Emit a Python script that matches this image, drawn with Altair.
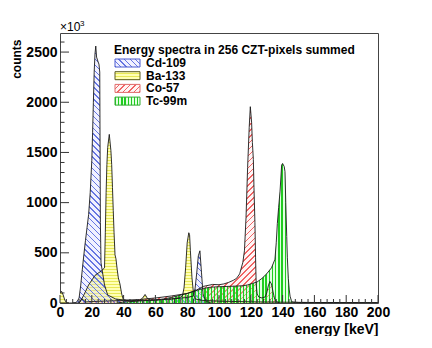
import math
import altair as alt
import pandas as pd

# ---------------- data (counts, axis unit = 10^3) ----------------
cd_e = [8, 10, 11, 12, 13, 14, 15, 16, 17, 18, 19, 20, 20.5, 21, 21.5, 22, 22.5, 23, 24, 24.5,
        25, 25.4, 25.8, 27, 28, 30, 35, 40, 50, 60, 70, 80, 84, 85, 86, 87, 88, 89, 90, 92, 95]
cd_c = [0, 5, 20, 50, 170, 330, 480, 620, 750, 880, 1100, 1420, 1700, 2000, 2300, 2480, 2560, 2450, 2400, 2380,
        2300, 800, 400, 280, 180, 80, 40, 30, 25, 30, 40, 55, 70, 150, 300, 470, 520, 300, 80, 15, 0]

ba_e = [0, 1, 2, 3, 4, 6, 12, 13, 15, 18, 22, 26, 28, 28.5, 29, 29.5, 30, 31, 32, 32.5, 33, 33.5, 34,
        34.6, 35.2, 36, 36.7, 37.7, 38.8, 39.8, 42, 45, 50, 52, 53.5, 55, 57, 60, 65, 70, 75, 77, 78, 79,
        80, 81, 81.5, 82, 83, 84, 85, 90, 100, 120, 140, 160, 200]
ba_c = [100, 116, 80, 30, 5, 0, 0, 20, 80, 180, 275, 320, 350, 700, 1100, 1380, 1550, 1680, 1520, 1380, 1150, 920, 700,
        480, 440, 330, 250, 190, 90, 35, 25, 20, 25, 50, 85, 45, 30, 30, 35, 40, 50, 70, 150, 350,
        600, 700, 680, 520, 250, 90, 40, 25, 18, 12, 8, 5, 3]

co_e = [12, 13.5, 14.5, 16, 20, 30, 40, 50, 60, 70, 80, 86, 90, 96, 100, 103, 106, 109, 111, 113, 115, 116,
        117, 118, 119, 119.7, 120.5, 121, 121.6, 122, 122.6, 123, 123.4, 124, 125, 127, 129, 130, 131, 132,
        133, 134, 135, 136, 138]
co_c = [0, 40, 35, 10, 15, 20, 25, 35, 50, 70, 95, 130, 165, 185, 182, 190, 205, 226, 245, 290, 405, 520,
        850, 1350, 1750, 1956, 1800, 1600, 1430, 1150, 800, 450, 180, 90, 60, 50, 60, 100, 170, 215,
        190, 110, 40, 15, 0]

tc_e = [36, 40, 50, 60, 65, 70, 75, 80, 85, 90, 95, 100, 105, 110, 115, 118, 121, 124, 127, 130, 133, 135.2,
        136, 136.7, 137.5, 138.4, 139.4, 140, 141, 141.5, 142, 142.6, 143, 143.6, 144.2, 144.7, 145.5, 146,
        150, 160, 180, 200]
tc_c = [0, 10, 20, 30, 40, 55, 75, 95, 120, 145, 158, 162, 165, 168, 172, 180, 195, 210, 245, 291, 350, 436,
        600, 793, 950, 1115, 1374, 1390, 1360, 1309, 1000, 662, 450, 242, 130, 68, 25, 10,
        5, 4, 4, 3]

series_names = ["Cd-109", "Ba-133", "Co-57", "Tc-99m"]
legend_title = "Energy spectra in 256 CZT-pixels summed"

x_major = [0, 20, 40, 60, 80, 100, 120, 140, 160, 180, 200]
x_minor = [v for v in range(0, 201, 4) if v % 20 != 0]
y_major = [0, 500, 1000, 1500, 2000, 2500]
y_minor = [v for v in range(100, 2690, 100) if v % 500 != 0]

# ---------------- layout ----------------
W, H = 318, 270
XMAX, YMAX = 200, 2690
FONT = "Liberation Sans"

xs = alt.Scale(domain=[0, XMAX], nice=False, zero=False)
ys = alt.Scale(domain=[0, YMAX], nice=False, zero=False)


def hatch(w, h, d, period, lw, line_col, gap_col):
    dx, dy = d
    dn = math.hypot(dx, dy)
    gx, gy = dy / h, -dx / w
    corners = [(0, 0), (1, 0), (0, 1), (1, 1)]
    s = [cx * gx + cy * gy for cx, cy in corners]
    smin, smax = min(s), max(s)
    p1 = corners[s.index(smin)]
    k = (smax - smin) / (gx * gx + gy * gy)
    p2 = (p1[0] + k * gx, p1[1] + k * gy)
    L = (w * abs(dy) + h * abs(dx)) / dn
    n = max(1, int(round(L / period)))
    f = lw / period
    stops = []
    for i in range(n):
        a, b, c = i / n, (i + f) / n, (i + 1) / n
        stops += [{"offset": round(a, 5), "color": line_col},
                  {"offset": round(b, 5), "color": line_col},
                  {"offset": round(b, 5), "color": gap_col},
                  {"offset": round(c, 5), "color": gap_col}]
    return {"gradient": "linear", "x1": p1[0], "y1": p1[1], "x2": p2[0], "y2": p2[1], "stops": stops}


def bbox(e, c):
    return (max(e) - min(e)) * W / XMAX, max(c) * H / YMAX


styles = {
    "Cd-109": dict(d=(1, 1), period=4.2, lw=1.1, line="#6676e2", gap="rgba(215,215,255,0.35)", edge="#4a5ad0"),
    "Ba-133": dict(d=(1, 0), period=3.0, lw=1.0, line="#e8e855", gap="#ffffb4", edge="#5a5a20"),
    "Co-57": dict(d=(1, -1), period=4.2, lw=1.1, line="#f06464", gap="rgba(255,225,225,0.35)", edge="#e06a6a"),
    "Tc-99m": dict(d=(0, 1), period=3.2, lw=1.4, line="#1fcc1f", gap="rgba(170,255,170,0.35)", edge="#33aa33"),
}
arrays = {"Cd-109": (cd_e, cd_c), "Ba-133": (ba_e, ba_c), "Co-57": (co_e, co_c), "Tc-99m": (tc_e, tc_c)}

axis_x = alt.Axis(values=x_major, title="energy [keV]", ticks=False, domain=False, grid=False, zindex=1,
                  labelFont=FONT, labelFontSize=14, labelFontWeight="bold", labelColor="black",
                  labelPadding=2, labelFlush=False, labelOverlap=False, format="d",
                  titleFont=FONT, titleFontSize=14, titleFontWeight="bold", titleColor="black",
                  titleAlign="right", titleBaseline="alphabetic", titleX=W, titleY=30)
axis_y = alt.Axis(values=y_major, title="counts", ticks=False, domain=False, grid=False, zindex=1,
                  labelFont=FONT, labelFontSize=14, labelFontWeight="bold", labelColor="black",
                  labelPadding=3, labelOverlap=False, format="d",
                  titleFont=FONT, titleFontSize=12, titleFontWeight="bold", titleColor="black",
                  titleAngle=270, titleAlign="right", titleBaseline="alphabetic", titleX=-40, titleY=6)


def X(field):
    return alt.X(field, scale=xs, axis=axis_x)


def Y(field):
    return alt.Y(field, scale=ys, axis=axis_y)


one = alt.Data(values=[{}])

layers = []
for name in ["Ba-133", "Co-57", "Cd-109", "Tc-99m"]:
    e, c = arrays[name]
    assert len(e) == len(c), name
    st = styles[name]
    w, h = bbox(e, c)
    grad = hatch(w, h, st["d"], st["period"], st["lw"], st["line"], st["gap"])
    df = pd.DataFrame({"e": e, "c": c})
    layers.append(alt.Chart(df).mark_area(fill=grad, clip=True).encode(x=X("e:Q"), y=Y("c:Q")))

for name in ["Ba-133", "Co-57", "Cd-109", "Tc-99m"]:
    e, c = arrays[name]
    df = pd.DataFrame({"e": e, "c": c})
    layers.append(alt.Chart(df).mark_line(color="#1a1a1a", strokeWidth=0.9, clip=True).encode(
        x=X("e:Q"), y=Y("c:Q")))


# inward ticks (ROOT style)
def yticks(vals, length):
    return alt.Chart(pd.DataFrame({"c": vals})).mark_rule(color="#333", strokeWidth=1).encode(
        y=Y("c:Q"), x=alt.value(0), x2=alt.value(length))


def xticks(vals, length):
    return alt.Chart(pd.DataFrame({"e": vals})).mark_rule(color="#333", strokeWidth=1).encode(
        x=X("e:Q"), y=alt.value(H), y2=alt.value(H - length))


layers += [yticks(y_major, 9), yticks(y_minor, 4.5), xticks(x_major, 8), xticks(x_minor, 4)]

# x10^3 multiplier
layers.append(alt.Chart(one).mark_text(text="×10", font=FONT, fontSize=12, align="left",
                                       baseline="alphabetic", color="black").encode(
    x=alt.value(0), y=alt.value(-2)))
layers.append(alt.Chart(one).mark_text(text="3", font=FONT, fontSize=8, align="left",
                                       baseline="alphabetic", color="black").encode(
    x=alt.value(20), y=alt.value(-7)))

# legend
LX, LY0, LDY = 55, 30, 12.7
layers.append(alt.Chart(one).mark_text(text=legend_title, font=FONT, fontSize=12, fontWeight="bold",
                                       align="left", baseline="middle", color="black").encode(
    x=alt.value(LX - 1), y=alt.value(16.5)))
for i, name in enumerate(series_names):
    st = styles[name]
    cy = LY0 + i * LDY
    grad = hatch(25, 8, st["d"], st["period"], st["lw"], st["line"], st["gap"])
    layers.append(alt.Chart(one).mark_rect(fill=grad, stroke=st["edge"], strokeWidth=1).encode(
        x=alt.value(LX), x2=alt.value(LX + 25), y=alt.value(cy - 4), y2=alt.value(cy + 4)))
    layers.append(alt.Chart(one).mark_text(text=name, font=FONT, fontSize=12, fontWeight="bold",
                                           align="left", baseline="middle", color="black").encode(
        x=alt.value(LX + 31), y=alt.value(cy)))

chart = alt.layer(*layers).properties(
    width=W, height=H, background="white",
    padding={"left": 52, "top": 25, "right": 46, "bottom": 33},
    autosize=alt.AutoSizeParams(type="none"),
).configure_view(stroke="#444", strokeWidth=1)

chart.save("out.html", embed_options={"renderer": "svg", "actions": False})
